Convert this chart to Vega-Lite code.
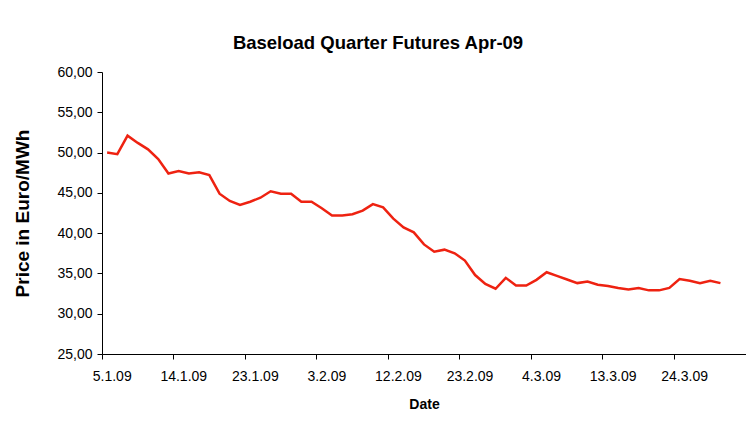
{
  "$schema": "https://vega.github.io/schema/vega-lite/v6.json",
  "autosize": "none",
  "width": 644,
  "height": 282,
  "padding": {"left": 102, "top": 72, "right": 0, "bottom": 76},
  "background": "white",
  "config": {"view": {"stroke": null}, "font": "Liberation Sans"},
  "title": {"text": "Baseload Quarter Futures Apr-09", "font": "Liberation Sans", "fontSize": 18.5, "fontWeight": "bold", "color": "black", "anchor": "middle", "dx": -46, "offset": 13},
  "data": {"values": [
    {"d": "5.1.09", "p": 50.0}, {"d": "6.1.09", "p": 49.8}, {"d": "7.1.09", "p": 52.1}, {"d": "8.1.09", "p": 51.2}, {"d": "9.1.09", "p": 50.4},
    {"d": "12.1.09", "p": 49.2}, {"d": "13.1.09", "p": 47.4}, {"d": "14.1.09", "p": 47.7}, {"d": "15.1.09", "p": 47.4}, {"d": "16.1.09", "p": 47.55},
    {"d": "19.1.09", "p": 47.2}, {"d": "20.1.09", "p": 44.9}, {"d": "21.1.09", "p": 44.0}, {"d": "22.1.09", "p": 43.5}, {"d": "23.1.09", "p": 43.9},
    {"d": "26.1.09", "p": 44.4}, {"d": "27.1.09", "p": 45.2}, {"d": "28.1.09", "p": 44.9}, {"d": "29.1.09", "p": 44.9}, {"d": "30.1.09", "p": 43.9},
    {"d": "2.2.09", "p": 43.9}, {"d": "3.2.09", "p": 43.1}, {"d": "4.2.09", "p": 42.2}, {"d": "5.2.09", "p": 42.2}, {"d": "6.2.09", "p": 42.35},
    {"d": "9.2.09", "p": 42.8}, {"d": "10.2.09", "p": 43.6}, {"d": "11.2.09", "p": 43.2}, {"d": "12.2.09", "p": 41.8}, {"d": "13.2.09", "p": 40.7},
    {"d": "16.2.09", "p": 40.1}, {"d": "17.2.09", "p": 38.6}, {"d": "18.2.09", "p": 37.7}, {"d": "19.2.09", "p": 37.95}, {"d": "20.2.09", "p": 37.5},
    {"d": "23.2.09", "p": 36.6}, {"d": "24.2.09", "p": 34.8}, {"d": "25.2.09", "p": 33.7}, {"d": "26.2.09", "p": 33.1}, {"d": "27.2.09", "p": 34.45},
    {"d": "2.3.09", "p": 33.5}, {"d": "3.3.09", "p": 33.5}, {"d": "4.3.09", "p": 34.2}, {"d": "5.3.09", "p": 35.15}, {"d": "6.3.09", "p": 34.7},
    {"d": "9.3.09", "p": 34.25}, {"d": "10.3.09", "p": 33.8}, {"d": "11.3.09", "p": 34.0}, {"d": "12.3.09", "p": 33.6}, {"d": "13.3.09", "p": 33.45},
    {"d": "16.3.09", "p": 33.2}, {"d": "17.3.09", "p": 33.0}, {"d": "18.3.09", "p": 33.2}, {"d": "19.3.09", "p": 32.9}, {"d": "20.3.09", "p": 32.9},
    {"d": "23.3.09", "p": 33.2}, {"d": "24.3.09", "p": 34.3}, {"d": "25.3.09", "p": 34.1}, {"d": "26.3.09", "p": 33.8}, {"d": "27.3.09", "p": 34.1},
    {"d": "30.3.09", "p": 33.8}
  ]},
  "mark": {"type": "line", "color": "#ee2211", "strokeWidth": 2.5},
  "encoding": {
    "x": {
      "field": "d", "type": "ordinal", "sort": null, "title": "Date",
      "scale": {"type": "band", "paddingInner": 0, "paddingOuter": 0,
        "domain": ["5.1.09","6.1.09","7.1.09","8.1.09","9.1.09","12.1.09","13.1.09","14.1.09","15.1.09","16.1.09","19.1.09","20.1.09","21.1.09","22.1.09","23.1.09","26.1.09","27.1.09","28.1.09","29.1.09","30.1.09","2.2.09","3.2.09","4.2.09","5.2.09","6.2.09","9.2.09","10.2.09","11.2.09","12.2.09","13.2.09","16.2.09","17.2.09","18.2.09","19.2.09","20.2.09","23.2.09","24.2.09","25.2.09","26.2.09","27.2.09","2.3.09","3.3.09","4.3.09","5.3.09","6.3.09","9.3.09","10.3.09","11.3.09","12.3.09","13.3.09","16.3.09","17.3.09","18.3.09","19.3.09","20.3.09","23.3.09","24.3.09","25.3.09","26.3.09","27.3.09","30.3.09","31.3.09","1.4.09"]},
      "axis": {
        "values": ["5.1.09","14.1.09","23.1.09","3.2.09","12.2.09","23.2.09","4.3.09","13.3.09","24.3.09"],
        "bandPosition": 0, "labelOffset": 5.1, "labelAngle": 0, "labelFontSize": 14, "labelColor": "black", "labelPadding": 10,
        "tickSize": 5, "tickColor": "black", "domainColor": "black", "grid": false,
        "titleFontSize": 14, "titleFontWeight": "bold", "titleColor": "black", "titlePadding": 14
      }
    },
    "y": {
      "field": "p", "type": "quantitative", "title": "Price in Euro/MWh",
      "scale": {"domain": [25, 60], "nice": false, "zero": false},
      "axis": {
        "values": [25, 30, 35, 40, 45, 50, 55, 60],
        "labelExpr": "replace(format(datum.value, '.2f'), '.', ',')",
        "labelFontSize": 14, "labelColor": "black", "labelPadding": 5,
        "tickSize": 5, "tickColor": "black", "domainColor": "black", "grid": false,
        "titleFontSize": 19, "titleFontWeight": "bold", "titleColor": "black", "titlePadding": 24
      }
    }
  }
}
